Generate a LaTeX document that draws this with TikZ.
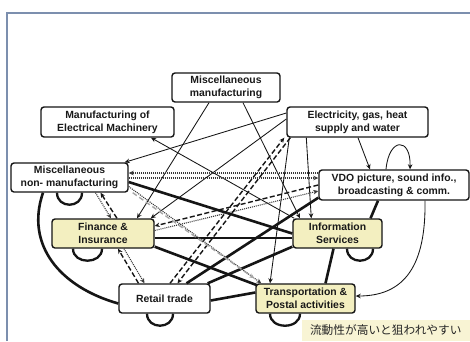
\documentclass[tikz,border=0pt]{standalone}
\usepackage{fontspec}
\setmainfont{Liberation Sans}
\newfontfamily\jpfont{Noto Sans CJK JP}
\usetikzlibrary{arrows.meta}
\definecolor{nodeyel}{HTML}{F3EFC0}
\definecolor{noteyel}{HTML}{F8F4D4}
\definecolor{framecol}{HTML}{7C8FAE}
\definecolor{edgecol}{HTML}{151515}
\begin{document}
\begin{tikzpicture}[x=1pt,y=-1pt,
  box/.style={draw=edgecol, line width=1.4pt, rounded corners=3pt, fill=white, align=center,
    font=\bfseries\fontsize{10.4}{13}\selectfont, inner sep=0pt, text=black!90},
  ybox/.style={box, fill=nodeyel},
  tip/.style={-{Stealth[length=5pt,width=4.5pt]}},
  thinedge/.style={draw=edgecol, line width=0.85pt, tip},
  thickedge/.style={draw=edgecol, line width=2.6pt},
  loopedge/.style={draw=edgecol, line width=2.3pt},
  dotedge/.style={draw=edgecol!85, line width=1.1pt, dash pattern=on 1pt off 1pt, tip},
  dashedge/.style={draw=edgecol, line width=1.4pt, dash pattern=on 5pt off 2.5pt, tip},
  grayedge/.style={draw=black!35, line width=1.4pt, dash pattern=on 5pt off 3pt, tip}
]
\useasboundingbox (0,0) rectangle (470,341);
\fill[white] (0,0) rectangle (470,341);
\draw[framecol, line width=1.5pt] (7,341) -- (7,13) -- (470,13);

% nodes
\node[box, minimum width=108pt, minimum height=29pt] (mm) at (226,87.5) {Miscellaneous\\manufacturing};
\node[box, minimum width=133pt, minimum height=30pt] (mem) at (107.5,122) {Manufacturing of\\Electrical Machinery};
\node[box, minimum width=141pt, minimum height=30pt] (el) at (357.5,122) {Electricity, gas, heat\\supply and water};
\node[box, minimum width=117pt, minimum height=29pt] (mnm) at (69.5,177.5) {Miscellaneous\\non- manufacturing};
\node[box, minimum width=150pt, minimum height=30pt] (vdo) at (394,185) {VDO picture, sound info.,\\broadcasting \& comm.};
\node[ybox, minimum width=102pt, minimum height=29pt] (fin) at (103,233.5) {Finance \&\\Insurance};
\node[ybox, minimum width=89pt, minimum height=29pt] (info) at (337.5,233.5) {Information\\Services};
\node[box, minimum width=91pt, minimum height=29pt] (ret) at (164.5,298.5) {Retail trade};
\node[ybox, minimum width=99pt, minimum height=29pt] (trans) at (305.5,298.5) {Transportation \&\\Postal activities};
\node[fill=noteyel, minimum width=168pt, minimum height=21pt, inner sep=0pt, anchor=south east,
  font=\jpfont\fontsize{11.7}{13}\selectfont, text=black!85] (note) at (470,341) {流動性が高いと狙われやすい};

% thick edges
\draw[thickedge] ([yshift=-4.5pt]mnm.east) -- (info.west);
\draw[thickedge] ([yshift=-4.5pt]fin.east) -- ([yshift=-4.5pt]info.west);
\draw[thickedge] ([yshift=2pt]fin.south east) -- ([xshift=2pt,yshift=-2pt]trans.north west);
\draw[thickedge] ([xshift=22pt]ret.north) -- ([yshift=3pt]vdo.south west);
\draw[thickedge] ([xshift=-3pt]ret.north east) -- ([yshift=2pt]info.south west);
\draw[thickedge] ([yshift=-2pt]ret.east) -- ([yshift=6pt]trans.west);
\draw[thickedge] ([xshift=-26.5pt]mnm.south) .. controls (25,245) and (60,287) .. ([yshift=-5pt]ret.west);
\draw[thickedge] ([xshift=-4pt]info.south) -- ([xshift=20pt]trans.north);
\draw[thickedge] ([xshift=-16pt]vdo.south) -- ([xshift=33pt]info.north);

% self loops
\draw[loopedge] ([xshift=-12.5pt]mnm.south) .. controls +(0,16) and +(0,16) .. ([xshift=12.5pt]mnm.south);
\draw[loopedge] ([xshift=-30pt]fin.south) .. controls +(0,16) and +(0,16) .. ([xshift=-1pt]fin.south);
\draw[loopedge] ([xshift=-17.5pt]ret.south) .. controls +(0,16) and +(0,16) .. ([xshift=8.5pt]ret.south);
\draw[loopedge] ([xshift=-35.5pt]trans.south) .. controls +(0,16) and +(0,16) .. ([xshift=-5.5pt]trans.south);
\draw[loopedge] ([xshift=9.5pt]info.south) .. controls +(0,16) and +(0,16) .. ([xshift=35.5pt]info.south);

% thin solid arrows
\draw[thinedge] ([xshift=-17pt]mm.south) -- ([xshift=34pt]fin.north);
\draw[thinedge] ([xshift=17pt]mm.south) -- ([xshift=-37.5pt]info.north);
\draw[thinedge] ([yshift=9pt]el.west) -- ([xshift=-4pt]mnm.north east);
\draw[thinedge] ([yshift=3pt]el.west) -- ([xshift=-4pt]fin.north east);
\draw[thinedge] ([xshift=3pt]el.south west) -- ([xshift=-35.5pt]trans.north);
\draw[thinedge] ([xshift=20pt]el.south west) -- ([xshift=19pt]info.north west);
\draw[thinedge] ([xshift=0.5pt]el.south) -- ([xshift=-24pt]vdo.north);
\draw[thinedge] ([xshift=2pt]info.north west) -- ([xshift=43.5pt]mem.south);
\draw[thinedge] ([xshift=31pt]vdo.south) .. controls (426,265) and (405,296) .. ([yshift=2.5pt]trans.east);
\draw[thinedge] ([xshift=-8pt]vdo.north) .. controls (389,137) and (411,137) .. ([xshift=16pt]vdo.north);

% dotted / dashed arrows
\draw[dotedge] ([yshift=12pt]vdo.west) -- ([yshift=4.5pt]mnm.east);
\draw[dotedge] ([yshift=-0.5pt]mnm.east) -- ([yshift=7pt]vdo.west);
\draw[dashedge] (vdo.west) -- ([yshift=7.5pt]fin.east);
\draw[dotedge] ([yshift=3pt]fin.east) -- ([yshift=-6pt]vdo.west);
\draw[dashedge] ([xshift=5.5pt]ret.north) -- ([xshift=-2pt]el.south west);
\draw[dashedge] ([xshift=4pt]el.south west) -- ([xshift=13pt]ret.north);
\draw[dotedge] ([xshift=26pt]mnm.south) -- ([xshift=8pt]fin.north);
\draw[dashedge] ([xshift=14pt]fin.north) -- ([xshift=31pt]mnm.south);
\draw[dashedge] ([xshift=-26pt]ret.north) -- ([xshift=15pt]fin.south);
\draw[dotedge] ([xshift=21pt]fin.south) -- ([xshift=-20pt]ret.north);
\draw[dotedge] ([yshift=-9pt]mnm.east) -- ([xshift=6pt]trans.north west);
\draw[grayedge] ([xshift=4pt]mnm.south east) -- ([xshift=-1pt,yshift=5pt]trans.north west);
\end{tikzpicture}
\end{document}
